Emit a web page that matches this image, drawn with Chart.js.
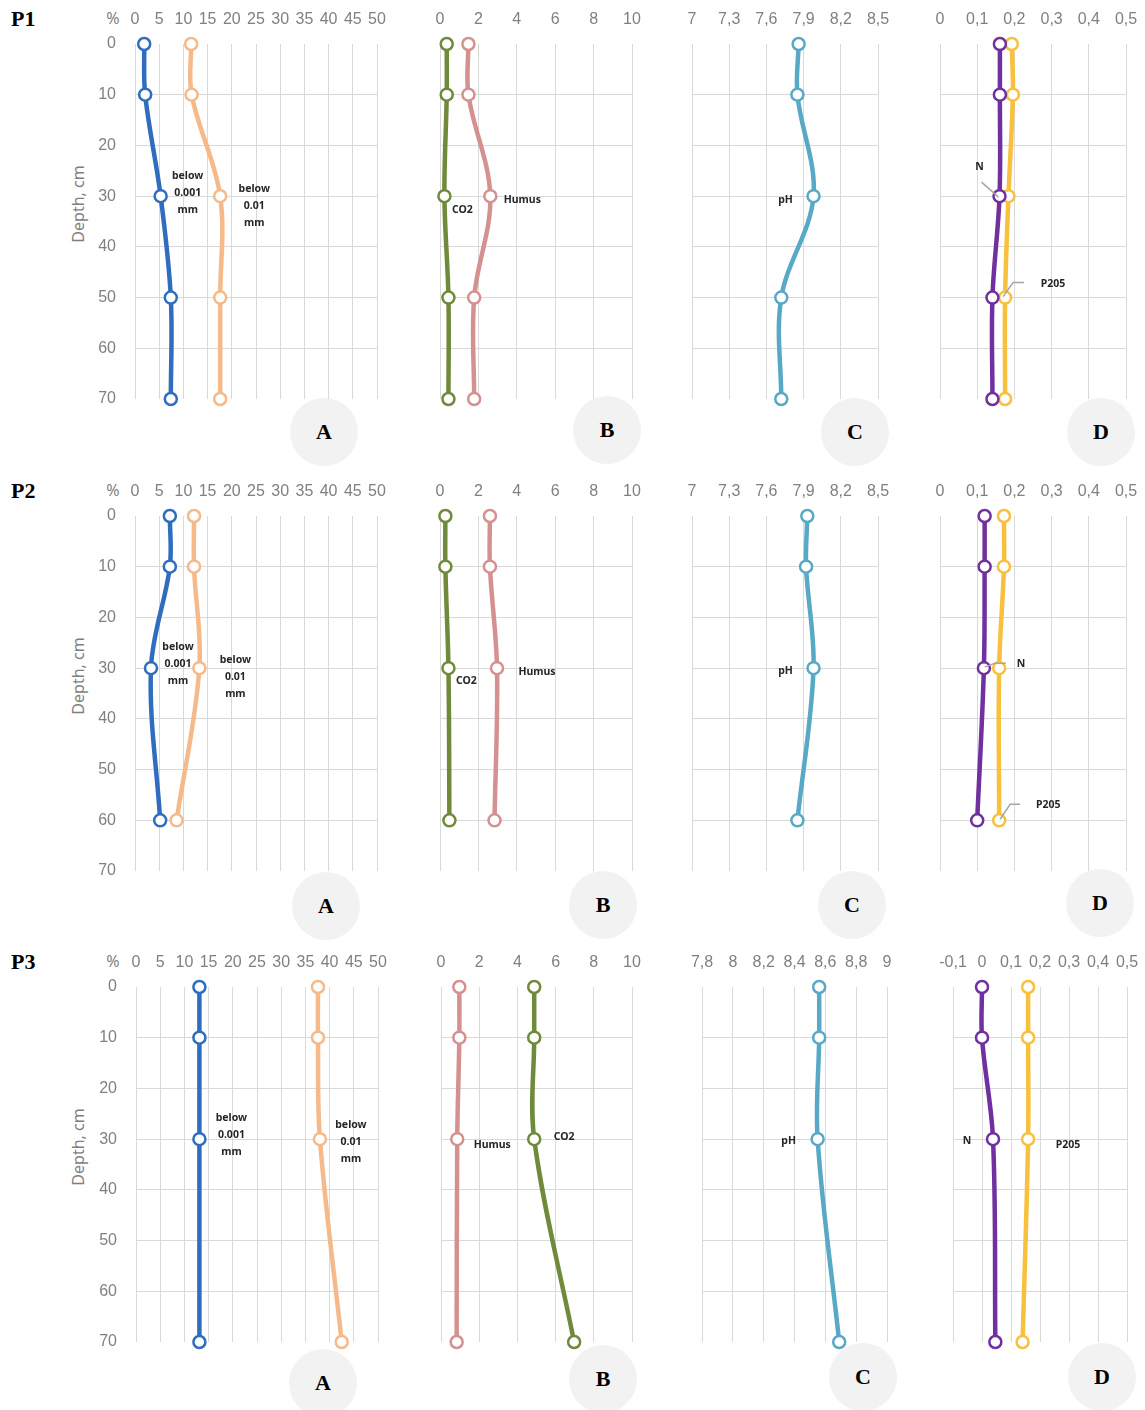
<!DOCTYPE html>
<html>
<head>
<meta charset="utf-8">
<script src="https://cdn.jsdelivr.net/npm/chart.js@4.4.1/dist/chart.umd.min.js"></script>
<style>
  html, body { margin: 0; padding: 0; background: #fff; overflow: hidden; }
  #fig { position: relative; width: 1145px; height: 1410px; font-family: "Noto Sans", sans-serif; overflow: hidden; }
  #fig canvas { position: absolute; }
  .rowname { position: absolute; font: bold 22px "Liberation Serif", serif; color: #000; transform: translateY(-50%); }
  .pct { position: absolute; font-size: 16px; color: #7f7f7f; transform: translate(-50%, -50%); }
  .ytitle { position: absolute; font-size: 16px; color: #7f7f7f; white-space: nowrap; transform: translate(-50%, -50%) rotate(-90deg); }
  .badge { position: absolute; width: 68px; height: 68px; border-radius: 50%; background: #f2f2f2;
           transform: translate(-50%, -50%); display: flex; align-items: center; justify-content: center;
           font: bold 22px "Liberation Serif", serif; color: #000; }
</style>
</head>
<body>
<div id="fig"></div>
<script>
// depths (cm)
const depthsP1 = [0, 10, 30, 50, 70];
const depthsP2 = [0, 10, 30, 60];
const depthsP3 = [0, 10, 30, 70];

// P1
const clayP1 = [1.9, 2.1, 5.3, 7.4, 7.4];       // below 0.001 mm, %
const siltP1 = [11.6, 11.7, 17.6, 17.6, 17.6];  // below 0.01 mm, %
const co2P1 = [0.35, 0.35, 0.23, 0.44, 0.44];
const humusP1 = [1.48, 1.48, 2.62, 1.78, 1.78];
const phP1 = [7.86, 7.85, 7.98, 7.72, 7.72];
const nP1 = [0.161, 0.161, 0.16, 0.141, 0.141];
const p2o5P1 = [0.193, 0.196, 0.184, 0.175, 0.175];

// P2
const clayP2 = [7.2, 7.2, 3.3, 5.2];
const siltP2 = [12.2, 12.2, 13.3, 8.6];
const co2P2 = [0.28, 0.28, 0.44, 0.49];
const humusP2 = [2.6, 2.6, 2.97, 2.84];
const phP2 = [7.93, 7.92, 7.98, 7.85];
const nP2 = [0.12, 0.12, 0.118, 0.10];
const p2o5P2 = [0.172, 0.172, 0.159, 0.159];

// P3
const clayP3 = [13.1, 13.1, 13.1, 13.1];
const siltP3 = [37.6, 37.6, 38.0, 42.5];
const humusP3 = [0.96, 0.96, 0.85, 0.82];
const co2P3 = [4.88, 4.88, 4.88, 6.97];
const phP3 = [8.56, 8.56, 8.55, 8.69];
const nP3 = [0.0, 0.0, 0.038, 0.046];
const p2o5P3 = [0.159, 0.159, 0.159, 0.14];

// tick labels
const depthTicks = [0, 10, 20, 30, 40, 50, 60, 70];
const ticksA = [0, 5, 10, 15, 20, 25, 30, 35, 40, 45, 50];
const ticksB = [0, 2, 4, 6, 8, 10];
const ticksC = [7, 7.3, 7.6, 7.9, 8.2, 8.5];
const ticksC3 = [7.8, 8, 8.2, 8.4, 8.6, 8.8, 9];
const ticksD = [0, 0.1, 0.2, 0.3, 0.4, 0.5];
const ticksD3 = [-0.1, 0, 0.1, 0.2, 0.3, 0.4, 0.5];

const rowNames = ["P1", "P2", "P3"];
const panelNames = ["A", "B", "C", "D"];

const colors = {
  clay: "#2f6dbf", silt: "#f5b98a", co2: "#6f8a3b", humus: "#d5918f",
  ph: "#58a9c5", n: "#7030a0", p2o5: "#f8c03c"
};

// layout
const rowTop = [44, 516, 987];
const tickY = [18, 490, 961];
const plotH = 355;
const xRanges = [
  [[135, 377], [440, 632], [692, 878], [940, 1126]],
  [[135, 377], [440, 632], [692, 878], [940, 1126]],
  [[136, 378], [441, 632], [702, 887], [953, 1127]]
];
const badges = [
  [[324, 432], [607, 430], [855, 432], [1101, 432]],
  [[326, 906], [603, 905], [852, 905], [1100, 903]],
  [[323, 1383], [603, 1379], [863, 1377], [1102, 1377]]
];

const panels = [
  { row: 0, col: 0, ticks: ticksA, depths: depthsP1, series: [["clay", clayP1], ["silt", siltP1]],
    notes: [{ ds: 0, i: 2, text: "below\n0.001\nmm", dx: 27, dy: -3 }, { ds: 1, i: 2, text: "below\n0.01\nmm", dx: 34, dy: 10 }] },
  { row: 0, col: 1, ticks: ticksB, depths: depthsP1, series: [["co2", co2P1], ["humus", humusP1]],
    notes: [{ ds: 0, i: 2, text: "CO2", dx: 18, dy: 14 }, { ds: 1, i: 2, text: "Humus", dx: 32, dy: 4 }] },
  { row: 0, col: 2, ticks: ticksC, depths: depthsP1, series: [["ph", phP1]],
    notes: [{ ds: 0, i: 2, text: "pH", dx: -28, dy: 4 }] },
  { row: 0, col: 3, ticks: ticksD, depths: depthsP1, series: [["n", nP1], ["p2o5", p2o5P1]],
    notes: [{ ds: 0, i: 2, text: "N", dx: -20, dy: -29, leader: [[-18, -14], [-1, 1]] },
            { ds: 1, i: 3, text: "P205", dx: 48, dy: -14, leader: [[19, -15], [8, -15], [-2, -1]] }] },

  { row: 1, col: 0, ticks: ticksA, depths: depthsP2, series: [["clay", clayP2], ["silt", siltP2]],
    notes: [{ ds: 0, i: 2, text: "below\n0.001\nmm", dx: 27, dy: -4 }, { ds: 1, i: 2, text: "below\n0.01\nmm", dx: 36, dy: 9 }] },
  { row: 1, col: 1, ticks: ticksB, depths: depthsP2, series: [["co2", co2P2], ["humus", humusP2]],
    notes: [{ ds: 0, i: 2, text: "CO2", dx: 18, dy: 13 }, { ds: 1, i: 2, text: "Humus", dx: 40, dy: 4 }] },
  { row: 1, col: 2, ticks: ticksC, depths: depthsP2, series: [["ph", phP2]],
    notes: [{ ds: 0, i: 2, text: "pH", dx: -28, dy: 3 }] },
  { row: 1, col: 3, ticks: ticksD, depths: depthsP2, series: [["n", nP2], ["p2o5", p2o5P2]],
    notes: [{ ds: 0, i: 2, text: "N", dx: 37, dy: -4, leader: [[22, -5], [11, -5], [1, -1]] },
            { ds: 1, i: 3, text: "P205", dx: 49, dy: -15, leader: [[21, -16], [11, -16], [1, -1]] }] },

  { row: 2, col: 0, ticks: ticksA, depths: depthsP3, series: [["clay", clayP3], ["silt", siltP3]],
    notes: [{ ds: 0, i: 2, text: "below\n0.001\nmm", dx: 32, dy: -4 }, { ds: 1, i: 2, text: "below\n0.01\nmm", dx: 31, dy: 3 }] },
  { row: 2, col: 1, ticks: ticksB, depths: depthsP3, series: [["humus", humusP3], ["co2", co2P3]],
    notes: [{ ds: 0, i: 2, text: "Humus", dx: 35, dy: 6 }, { ds: 1, i: 2, text: "CO2", dx: 30, dy: -2 }] },
  { row: 2, col: 2, ticks: ticksC3, depths: depthsP3, series: [["ph", phP3]],
    notes: [{ ds: 0, i: 2, text: "pH", dx: -29, dy: 2 }] },
  { row: 2, col: 3, ticks: ticksD3, depths: depthsP3, series: [["n", nP3], ["p2o5", p2o5P3]],
    notes: [{ ds: 0, i: 2, text: "N", dx: -26, dy: 2 }, { ds: 1, i: 2, text: "P205", dx: 40, dy: 6 }] }
];

// labels next to the curves
const notesPlugin = {
  id: "notes",
  afterDatasetsDraw(chart, args, opts) {
    const { ctx } = chart;
    const xs = chart.scales.x, ys = chart.scales.y;
    ctx.save();
    (opts.items || []).forEach(it => {
      const pt = chart.data.datasets[it.ds].data[it.i];
      const px = xs.getPixelForValue(pt.x), py = ys.getPixelForValue(pt.y);
      if (it.leader) {
        ctx.strokeStyle = "#a6a6a6";
        ctx.lineWidth = 1.5;
        ctx.beginPath();
        it.leader.forEach(([lx, ly], k) => k ? ctx.lineTo(px + lx, py + ly) : ctx.moveTo(px + lx, py + ly));
        ctx.stroke();
      }
      ctx.font = 'bold 10.5px "Noto Sans", sans-serif';
      ctx.fillStyle = "#262626";
      ctx.textAlign = "center";
      ctx.textBaseline = "middle";
      const lines = it.text.split("\n");
      lines.forEach((t, k) => ctx.fillText(t, px + it.dx, py + it.dy + (k - (lines.length - 1) / 2) * 17));
    });
    ctx.restore();
  }
};

const fmt = v => String(Math.round(v * 100) / 100).replace(".", ",");

const fig = document.getElementById("fig");

function addDiv(cls, text, x, y) {
  const d = document.createElement("div");
  d.className = cls;
  d.textContent = text;
  d.style.left = x + "px";
  d.style.top = y + "px";
  fig.appendChild(d);
}

rowNames.forEach((name, r) => {
  addDiv("rowname", name, 11, tickY[r] + 1);
  addDiv("pct", "%", 113, tickY[r]);
  addDiv("ytitle", "Depth, cm", 78, rowTop[r] + 160);
  panelNames.forEach((p, c) => addDiv("badge", p, badges[r][c][0], badges[r][c][1]));
});

panels.forEach(p => {
  const [x0, x1] = xRanges[p.row][p.col];
  const top = rowTop[p.row];
  const yW = p.col === 0 ? 60 : 0;
  // room around the plot so that tick-label overflow never squeezes the plot area
  const padL = p.col === 0 ? 10 : 36, padR = 36, padB = 34, axisH = 44;

  const cv = document.createElement("canvas");
  cv.width = (x1 - x0) + yW + padL + padR;
  cv.height = axisH + plotH + padB;
  cv.style.left = (x0 - yW - padL) + "px";
  cv.style.top = (top - axisH) + "px";
  fig.appendChild(cv);

  const datasets = p.series.map(([key, vals]) => ({
    data: p.depths.map((d, i) => ({ x: vals[i], y: d })),
    showLine: true,
    borderColor: colors[key],
    borderWidth: 4.5,
    tension: 0.35,
    pointRadius: 6,
    pointBorderWidth: 2.5,
    pointBorderColor: colors[key],
    pointBackgroundColor: "#fff",
    clip: false
  }));

  new Chart(cv, {
    type: "scatter",
    data: { datasets },
    options: {
      responsive: false,
      animation: false,
      devicePixelRatio: 1,
      layout: { padding: { left: padL, right: padR, top: 0, bottom: padB } },
      plugins: { legend: { display: false }, tooltip: { enabled: false }, notes: { items: p.notes } },
      scales: {
        x: {
          type: "linear", position: "top",
          min: p.ticks[0], max: p.ticks[p.ticks.length - 1],
          border: { display: false },
          grid: { color: "#d9d9d9", lineWidth: 1, drawTicks: false },
          ticks: { padding: 15, color: "#808080", font: { size: 16 }, autoSkip: false, maxRotation: 0, minRotation: 0, callback: v => fmt(v) },
          afterBuildTicks: s => { s.ticks = p.ticks.map(v => ({ value: v })); },
          afterFit: s => { s.height = axisH; }
        },
        y: {
          type: "linear", reverse: true, min: 0, max: 70,
          border: { display: false },
          grid: { drawTicks: false, lineWidth: 1,
                  color: c => (c.tick && (c.tick.value === 0 || c.tick.value === 70)) ? "rgba(0,0,0,0)" : "#d9d9d9" },
          ticks: { display: p.col === 0, padding: 19, color: "#808080", font: { size: 16 } },
          afterBuildTicks: s => { s.ticks = depthTicks.map(v => ({ value: v })); },
          afterFit: s => { s.width = yW; }
        }
      }
    },
    plugins: [notesPlugin]
  });
});
</script>
</body>
</html>
